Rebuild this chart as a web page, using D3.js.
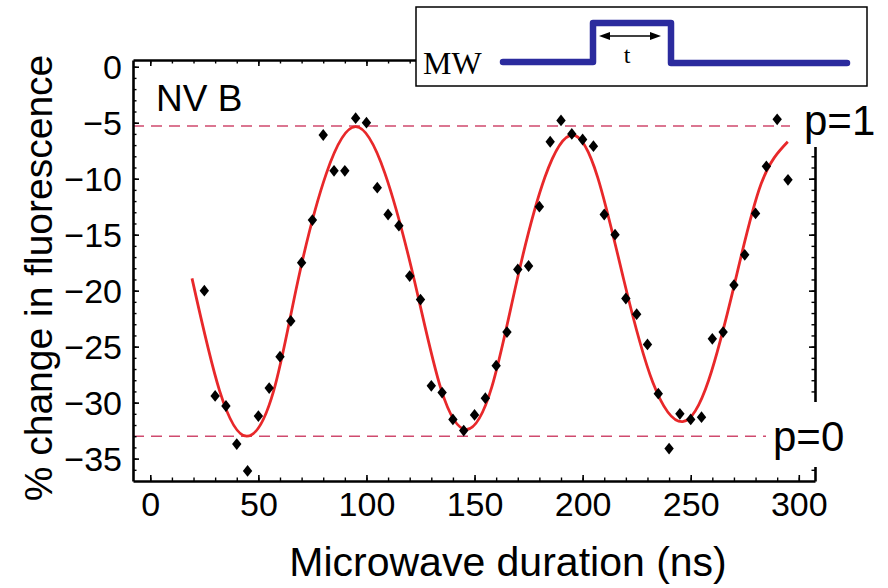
<!DOCTYPE html>
<html lang="en">
<head>
<meta charset="UTF-8">
<title>NV B Rabi</title>
<script src="https://cdn.jsdelivr.net/npm/d3@7"></script>
<style>
body { margin: 0; background: #fff; }
text { font-family: "Liberation Sans", Arial, Helvetica, sans-serif; fill: #000; }
.serif { font-family: "Liberation Serif", "Times New Roman", serif; }
.frame .domain { stroke: #000; stroke-width: 2.6; }
.frame .tick line { stroke: #000; stroke-width: 1.6; }
.minor .domain { display: none; }
.minor .tick line { stroke: #000; stroke-width: 1.4; }
</style>
</head>
<body>
<svg width="888" height="588"></svg>
<script>
// measured points (ns, % change)
var pointTimes = [25, 30, 35, 40, 45, 50, 55, 60, 65, 70, 75, 80, 85, 90, 95, 100, 105, 110, 115, 120,
    125, 130, 135, 140, 145, 150, 155, 160, 165, 170, 175, 180, 185, 190, 195, 200, 205, 210, 215, 220,
    225, 230, 235, 240, 245, 250, 255, 260, 265, 270, 275, 280, 285, 290, 295];
var pointValues = [-20.0, -29.4, -30.3, -33.7, -36.1, -31.2, -28.7, -25.9, -22.7, -17.5, -13.7, -6.1, -9.3, -9.3, -4.6, -5.0, -10.8, -13.2, -14.2, -18.7,
    -20.8, -28.5, -29.1, -31.5, -32.5, -31.1, -29.6, -26.7, -23.7, -18.1, -17.8, -12.5, -6.7, -4.8, -6.0, -6.5, -7.1, -13.2, -15.0, -20.7,
    -22.1, -24.8, -29.2, -34.1, -31.0, -31.5, -31.3, -24.3, -23.7, -19.5, -16.8, -13.1, -8.9, -4.7, -10.1];

// fitted curve
var fitTimes = [19.3, 32, 44.6, 57, 68.2, 81.5, 95, 108.5, 122.3, 134.5, 146.4, 158, 169.5, 182.5, 195.4, 207, 219, 232.5, 246.3, 258.3, 270.4, 282.5, 294.9];
var fitValues = [-18.9, -28.9, -33.0, -29.0, -19.2, -9.5, -5.35, -9.5, -19.2, -28.8, -32.4, -28.6, -19.2, -9.9, -6.1, -9.9, -19.0, -28.2, -31.7, -28.0, -19.3, -10.5, -6.7];

var levelValues = [-5.3, -33.0];
var levelLabels = ["p=1", "p=0"];

var xTicks = [0, 50, 100, 150, 200, 250, 300];
var yTicks = [0, -5, -10, -15, -20, -25, -30, -35];

var svg = d3.select("svg");

var x = d3.scaleLinear().domain([-8, 307.5]).range([133, 815]);
var y = d3.scaleLinear().domain([0.6, -37]).range([60, 481]);

var xMinor = d3.range(0, 301, 10);
var yMinor = d3.range(0, -37, -1);

// dashed p levels
svg.selectAll(".level").data(levelValues).enter().append("line")
    .attr("class", "level")
    .attr("x1", x.range()[0])
    .attr("x2", function(d, i) { return i == 0 ? 790 : 766; })
    .attr("y1", function(d) { return y(d); })
    .attr("y2", function(d) { return y(d); })
    .attr("stroke", "#cf4a6e")
    .attr("stroke-width", 1.4)
    .attr("stroke-dasharray", "11,7");

// fit line
var line = d3.line()
    .x(function(d, i) { return x(fitTimes[i]); })
    .y(function(d) { return y(d); })
    .curve(d3.curveNatural);

svg.append("path")
    .datum(fitValues)
    .attr("d", line)
    .attr("fill", "none")
    .attr("stroke", "#e8282a")
    .attr("stroke-width", 2.8);

// diamonds
var diamond = {
    draw: function(ctx, size) {
        var w = 4.7, h = 5.9;
        ctx.moveTo(0, -h); ctx.lineTo(w, 0); ctx.lineTo(0, h); ctx.lineTo(-w, 0); ctx.closePath();
    }
};
svg.selectAll(".pt").data(pointValues).enter().append("path")
    .attr("class", "pt")
    .attr("d", d3.symbol().type(diamond))
    .attr("transform", function(d, i) { return "translate(" + x(pointTimes[i]) + "," + y(d) + ")"; })
    .attr("fill", "#000");

// frame: four sides, ticks inward
function frame(axis, tx, ty, labels) {
    var g = svg.append("g").attr("class", "frame").attr("transform", "translate(" + tx + "," + ty + ")");
    g.call(axis);
    if (!labels) g.selectAll("text").remove();
    return g;
}

var bottom = frame(d3.axisBottom(x).tickValues(xTicks).tickSizeInner(-6).tickSizeOuter(0).tickPadding(11), 0, y.range()[1], true);
bottom.selectAll("text").style("font-size", "34px").attr("dy", "0.72em");
var left = frame(d3.axisLeft(y).tickValues(yTicks).tickSizeInner(-6).tickSizeOuter(0).tickPadding(11), x.range()[0], 0, true);
left.selectAll("text").style("font-size", "34px").attr("dy", "0.35em");
frame(d3.axisTop(x).tickValues(xTicks).tickSizeInner(-6).tickSizeOuter(0), 0, y.range()[0], false);
frame(d3.axisRight(y).tickValues(yTicks).tickSizeInner(-6).tickSizeOuter(0), x.range()[1], 0, false);

function minor(axis, tx, ty) {
    svg.append("g").attr("class", "minor").attr("transform", "translate(" + tx + "," + ty + ")")
        .call(axis.tickSizeInner(-3.5).tickSizeOuter(0).tickFormat(""));
}
minor(d3.axisBottom(x).tickValues(xMinor), 0, y.range()[1]);
minor(d3.axisTop(x).tickValues(xMinor), 0, y.range()[0]);
minor(d3.axisLeft(y).tickValues(yMinor), x.range()[0], 0);
minor(d3.axisRight(y).tickValues(yMinor), x.range()[1], 0);

// p labels sit on white over the right frame
svg.append("rect").attr("x", 800).attr("y", 86).attr("width", 88).attr("height", 61).attr("fill", "#fff");
svg.append("rect").attr("x", 768).attr("y", 402).attr("width", 120).attr("height", 65).attr("fill", "#fff");
svg.selectAll(".plab").data(levelLabels).enter().append("text")
    .attr("class", "plab")
    .attr("x", function(d, i) { return i == 0 ? 804 : 773; })
    .attr("y", function(d, i) { return y(levelValues[i]) + (i == 0 ? 9 : 15); })
    .style("font-size", "42px")
    .text(function(d) { return d; });

svg.append("text").attr("x", 156).attr("y", 111).style("font-size", "37px").text("NV B");

// axis titles
svg.append("text")
    .attr("x", 508).attr("y", 576)
    .attr("text-anchor", "middle")
    .style("font-size", "41px")
    .text("Microwave duration (ns)");
svg.append("text")
    .attr("transform", "translate(52,278) rotate(-90)")
    .attr("text-anchor", "middle")
    .style("font-size", "39px")
    .text("% change in fluorescence");

// MW pulse inset
var inset = svg.append("g");
inset.append("rect").attr("x", 416).attr("y", 7).attr("width", 451).attr("height", 79)
    .attr("fill", "#fff").attr("stroke", "#000").attr("stroke-width", 1.5);
inset.append("text").attr("class", "serif").attr("x", 423).attr("y", 74).style("font-size", "32px").text("MW");
inset.append("path")
    .attr("d", d3.line()([[503, 62], [593, 62], [593, 23], [671, 23], [671, 63], [847, 63]]))
    .attr("fill", "none").attr("stroke", "#2b2b9e").attr("stroke-width", 6.5)
    .attr("stroke-linecap", "round").attr("stroke-linejoin", "round");
inset.append("line").attr("x1", 604).attr("x2", 655).attr("y1", 36).attr("y2", 36)
    .attr("stroke", "#000").attr("stroke-width", 1.4);
inset.append("path").attr("d", "M599,36L610,32L610,40Z").attr("fill", "#000");
inset.append("path").attr("d", "M661,36L650,32L650,40Z").attr("fill", "#000");
inset.append("text").attr("class", "serif").attr("x", 627).attr("y", 63)
    .attr("text-anchor", "middle").style("font-size", "24px").text("t");
</script>
</body>
</html>
